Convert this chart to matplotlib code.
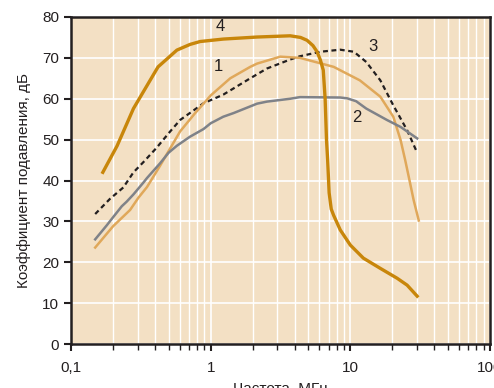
import numpy as np
import matplotlib.pyplot as plt
from matplotlib.ticker import FixedLocator, FixedFormatter, LogLocator, NullFormatter

plt.rcParams['font.family'] = ['Liberation Sans', 'DejaVu Sans']

# curve 1 (light tan)
f1 = [0.149, 0.2, 0.265, 0.304, 0.35, 0.434, 0.5, 0.604, 0.77, 0.91, 1.0, 1.38, 1.92, 2.15, 3.15,
      4.36, 7.6, 11.7, 16.4, 20.3, 22.9, 24.7, 26.2, 28.4, 30.9]
a1 = [23.6, 28.8, 32.8, 35.8, 38.4, 43.6, 47.2, 52.0, 56.4, 59.2, 60.8, 65.0, 67.8, 68.6, 70.3,
      70.0, 67.8, 64.5, 60.5, 55.6, 49.9, 45.0, 40.9, 35.2, 30.2]
# curve 2 (gray)
f2 = [0.149, 0.18, 0.2, 0.231, 0.25, 0.28, 0.33, 0.35, 0.434, 0.5, 0.573, 0.71, 0.89, 1.0, 1.23,
      1.46, 2.15, 2.53, 3.71, 4.36, 8.47, 9.5, 11.0, 13.0, 18.3, 22.9, 30.1]
a2 = [25.6, 29.0, 31.0, 33.7, 34.8, 36.6, 39.5, 40.6, 44.2, 46.8, 48.5, 50.7, 52.6, 54.0, 55.6,
      56.5, 58.8, 59.3, 60.0, 60.4, 60.3, 60.1, 59.4, 57.6, 54.8, 53.1, 50.3]
# curve 3 (black dashed)
f3 = [0.149, 0.19, 0.237, 0.28, 0.33, 0.41, 0.51, 0.604, 0.89, 1.23, 1.92, 2.53, 3.71, 4.36, 6.1,
      8.47, 10.6, 13.0, 16.4, 20.3, 25.5, 30.1]
a3 = [31.8, 35.5, 38.3, 42.0, 44.5, 48.0, 51.9, 54.8, 58.9, 61.0, 65.0, 67.4, 69.6, 70.4, 71.5,
      72.0, 71.5, 69.0, 64.5, 58.4, 52.3, 46.8]
# curve 4 (dark gold)
f4 = [0.169, 0.214, 0.28, 0.42, 0.573, 0.713, 0.84, 1.23, 2.15, 3.71, 4.4, 4.9, 5.4, 5.78, 6.1,
      6.4, 6.6, 6.75, 6.88, 7.05, 7.3, 7.59, 8.47, 10, 12.4, 16.4, 21.6, 25.5, 30.1]
a4 = [42.0, 48.5, 57.6, 67.8, 71.9, 73.3, 74.0, 74.6, 75.1, 75.4, 75.0, 74.3, 73.0, 71.5, 69.5,
      67.0, 60.0, 50.0, 45.0, 37.0, 33.0, 31.5, 27.9, 24.2, 21.0, 18.5, 16.1, 14.4, 11.7]

labels = ["1", "2", "3", "4"]
label_pos = [(1.13, 68.0), (11.2, 55.3), (14.4, 72.9), (1.17, 77.7)]

fig = plt.figure(figsize=(4.94, 3.88), dpi=100)
ax = fig.add_axes([71 / 494, 1 - 344 / 388, (490 - 71) / 494, (344 - 17) / 388])
ax.set_facecolor('#F3E0C4')

ax.set_xscale('log')
ax.set_xlim(0.1, 100)
ax.set_ylim(0, 80)

ax.xaxis.set_major_locator(FixedLocator([0.1, 1, 10, 100]))
ax.xaxis.set_major_formatter(FixedFormatter(['0,1', '1', '10', '100']))
ax.xaxis.set_minor_locator(LogLocator(base=10, subs=np.arange(2, 10)))
ax.xaxis.set_minor_formatter(NullFormatter())
ax.set_yticks(np.arange(0, 81, 10))

ax.grid(True, which='major', color='white', lw=1.2)
ax.grid(True, which='minor', axis='x', color='white', lw=1.0)
ax.set_axisbelow(True)

ax.plot(f3, a3, color='#231F20', lw=1.6, ls=(0, (2.2, 1.6)))
ax.plot(f1, a1, color='#E0A85A', lw=1.8)
ax.plot(f2, a2, color='#7F8288', lw=1.8)
ax.plot(f4, a4, color='#C8860A', lw=2.4)

for t, (x, y) in zip(labels, label_pos):
    ax.text(x, y, t, fontsize=12, color='#231F20', ha='center', va='center')

for s in ax.spines.values():
    s.set_color('#231F20')
    s.set_linewidth(1.8)

ax.tick_params(which='both', direction='out', color='#231F20', labelsize=11, labelcolor='#231F20')
ax.tick_params(which='major', length=5, width=1.5)
ax.tick_params(which='minor', length=4, width=1.0)
ax.tick_params(axis='x', pad=7)

ax.set_xlabel('Частота, МГц', fontsize=11, color='#231F20', labelpad=5)
ax.set_ylabel('Коэффициент подавления, дБ', fontsize=11, color='#231F20', labelpad=8)

fig.savefig('out.png', dpi=100)
